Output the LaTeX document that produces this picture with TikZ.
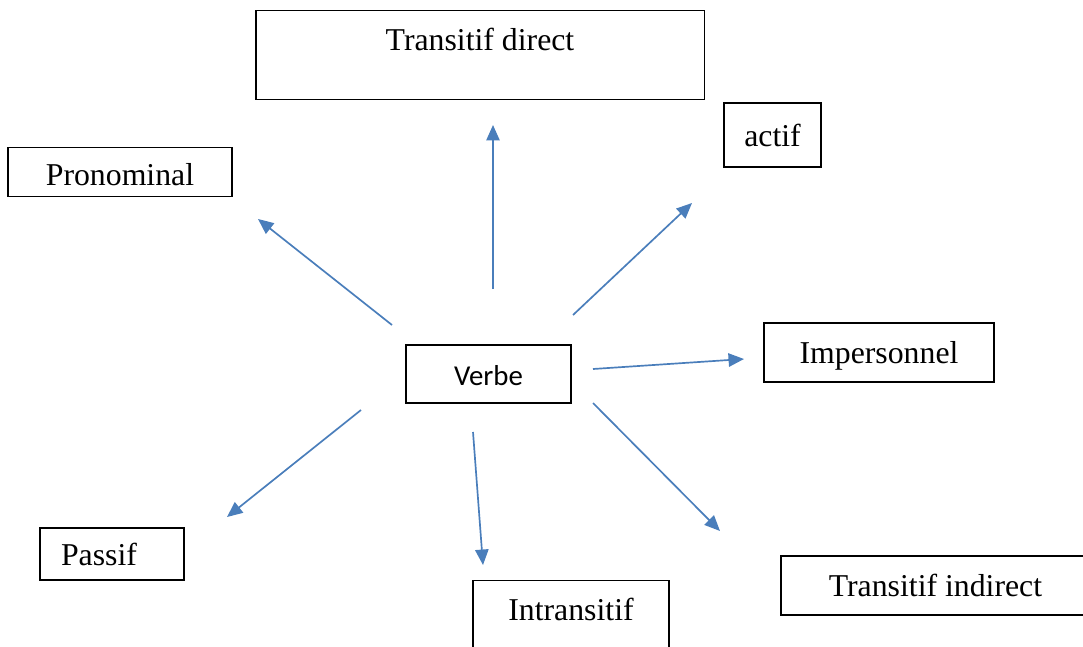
\documentclass[tikz,border=0pt]{standalone}
\usepackage{fontspec}
\setmainfont{Liberation Serif}
\newfontfamily\calibri{Carlito}
\usepackage{tikz}
\usetikzlibrary{arrows.meta}
\definecolor{arrowblue}{HTML}{4A7EBB}
\tikzstyle{mybox} = [draw=black, thick, rectangle, inner sep=0pt,
    font=\fontsize{22.6}{27}\selectfont, text height=18pt, text depth=2pt]
\tikzstyle{myarrow} = [draw=arrowblue, line width=1.2pt,
    -{Triangle[length=11pt,width=9.5pt]}]

\begin{document}
\begin{tikzpicture}[x=0.025cm, y=-0.025cm]
                \useasboundingbox (0,0) rectangle (1083,646);
                % the boxes
                \node [mybox, anchor=north, minimum width=11.2cm, text height=1cm, text depth=1.225cm] (tdirect) at (480,10) {Transitif direct};
                \node [mybox, minimum width=2.425cm, minimum height=1.6cm] (actif) at (772.5,135) {actif};
                \node [mybox, anchor=north, minimum width=5.6cm, text height=0.95cm, text depth=0.275cm] (pronom) at (120,147) {Pronominal};
                \node [mybox, minimum width=4.125cm, minimum height=1.45cm, font=\calibri\fontsize{20.5}{24}\selectfont] (verbe) at (488.5,374) {Verbe};
                \node [mybox, minimum width=5.75cm, minimum height=1.475cm] (imperso) at (879,352.5) {Impersonnel};
                \node [mybox, minimum width=3.6cm, minimum height=1.3cm] (passif) at (112,554) {Passif\hspace*{0.65cm}};
                \node [mybox, anchor=north, minimum width=4.9cm, text height=1cm, text depth=1cm] (intrans) at (571,580) {Intransitif};
                \node [mybox, minimum width=7.725cm, minimum height=1.475cm] (tindirect) at (935.5,585.5) {Transitif indirect};
                % arrow ends
                \coordinate (s1) at (493,289); \coordinate (e1) at (493,125);
                \coordinate (s2) at (573,315); \coordinate (e2) at (692,203);
                \coordinate (s3) at (392,325); \coordinate (e3) at (258,219);
                \coordinate (s4) at (593,369); \coordinate (e4) at (744,359);
                \coordinate (s5) at (361,410); \coordinate (e5) at (227,517);
                \coordinate (s6) at (473,432); \coordinate (e6) at (483,565);
                \coordinate (s7) at (593,403); \coordinate (e7) at (720,531);
                \foreach \i in {1,...,7}
                    \draw [myarrow] (s\i) -- (e\i);
            \end{tikzpicture}
\end{document}
